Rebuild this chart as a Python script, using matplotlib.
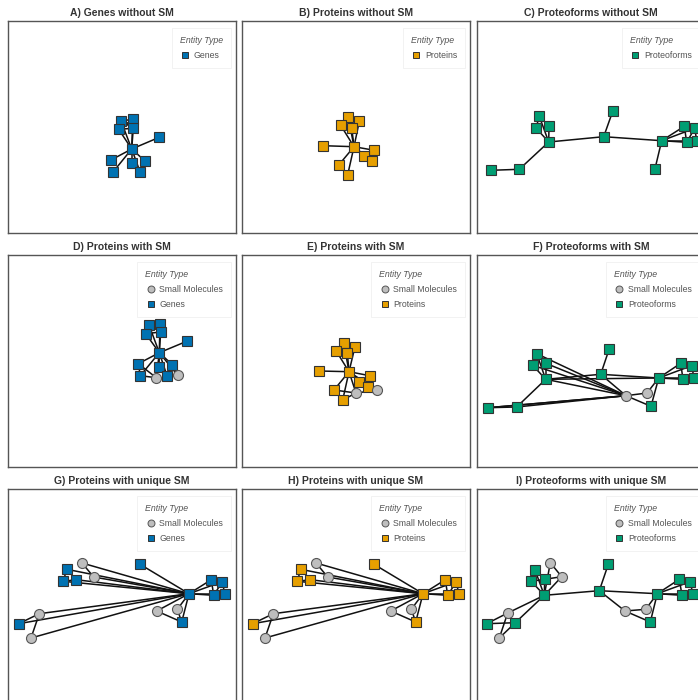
import matplotlib.pyplot as plt
from matplotlib.lines import Line2D

plt.rcParams['font.family'] = ['Liberation Sans', 'DejaVu Sans']

# node layouts (pixel units inside a 228 x 212 panel, y pointing down)
# A) genes without SM
a_x = [113, 124.7, 110.7, 125.3, 151.3, 123.7, 103, 105.3, 123.7, 137, 132]
a_y = [100, 98.3, 108.3, 107.3, 116.3, 128, 139, 150.7, 142.3, 140, 150.7]
a_kind = ['P'] * 11
a_edges = [(5, 0), (5, 1), (5, 2), (5, 3), (5, 4), (5, 6), (5, 7), (5, 8), (5, 9), (5, 10),
           (0, 3), (1, 2), (0, 1), (2, 3), (8, 10), (9, 10)]

# B) proteins without SM
b_x = [106.3, 117.3, 98.7, 109.7, 81.3, 112, 132.3, 121.7, 130.3, 97, 105.7]
b_y = [96.3, 100.3, 104.3, 106.7, 124.7, 125.7, 129.3, 135, 140.3, 143.7, 153.7]
b_kind = ['P'] * 11
b_edges = [(5, 0), (5, 1), (5, 2), (5, 3), (5, 4), (5, 6), (5, 7), (5, 8), (5, 9), (5, 10),
           (0, 3), (0, 1), (2, 3), (1, 3), (7, 8), (6, 8)]

# C) proteoforms without SM
c_x = [62.3, 59, 72, 71.7, 135.7, 126.7, 184.7, 178, 207.3, 217.7, 209.7, 219.7, 42.3, 14]
c_y = [95.3, 107, 105, 121, 90.3, 115.7, 119.7, 147.7, 105.3, 107.3, 121.3, 119.7, 148.3, 149.3]
c_kind = ['P'] * 14
c_edges = [(0, 3), (1, 3), (2, 3), (0, 2), (0, 1), (3, 12), (12, 13), (3, 5), (5, 4), (5, 6),
           (6, 7), (6, 8), (6, 9), (6, 10), (6, 11), (8, 10), (8, 9), (9, 11), (10, 11), (9, 10)]

# D) genes with SM
d_x = [141, 152, 137.7, 152.7, 178.7, 151.3, 130.3, 151, 164.3, 132.3, 159, 148.3, 169.7]
d_y = [70, 68.7, 78.7, 77, 86.3, 97.7, 108.7, 112, 109.7, 120.7, 120.7, 122.7, 120.3]
d_kind = ['P'] * 11 + ['S', 'S']
d_edges = [(5, 0), (5, 1), (5, 2), (5, 3), (5, 4), (5, 6), (5, 7), (5, 8), (5, 9), (5, 10),
           (5, 11), (5, 12), (0, 3), (0, 1), (2, 3), (1, 2), (6, 11), (6, 9), (9, 11),
           (7, 10), (8, 10), (10, 12), (8, 12), (7, 11)]

# E) proteins with SM
e_x = [101.7, 113, 94, 105.3, 77, 107, 127.7, 116.7, 125.7, 92, 100.7, 114, 134.7]
e_y = [87.7, 91.7, 95.7, 97.7, 116, 116.7, 120.7, 126.7, 131.7, 135, 145, 138, 135.3]
e_kind = ['P'] * 11 + ['S', 'S']
e_edges = [(5, 0), (5, 1), (5, 2), (5, 3), (5, 4), (5, 6), (5, 7), (5, 8), (5, 9), (5, 10),
           (5, 11), (5, 12), (0, 3), (0, 1), (2, 3), (1, 3), (9, 11), (10, 11), (7, 8),
           (6, 8), (8, 12), (11, 12), (7, 11)]

# F) proteoforms with SM
f_x = [59.7, 55.7, 68.7, 68.7, 132.3, 123.7, 181.7, 174, 203.7, 214.7, 206, 217, 39.7, 11.3, 149, 170]
f_y = [98.7, 110.3, 108.3, 124.3, 93.7, 119.3, 123, 151.3, 108.3, 110.7, 124.3, 123, 152, 152.7, 140.7, 138]
f_kind = ['P'] * 14 + ['S', 'S']
f_edges = [(0, 3), (1, 3), (2, 3), (0, 2), (0, 1), (3, 12), (12, 13), (3, 5), (5, 4), (5, 6),
           (3, 6), (6, 7), (6, 8), (6, 9), (6, 10), (6, 11), (8, 10), (8, 9), (9, 11), (10, 11),
           (14, 0), (14, 1), (14, 2), (14, 3), (14, 12), (14, 13), (14, 5), (14, 15), (14, 7),
           (15, 6), (13, 14)]

# G/H) genes / proteins with unique SM
g_x = [74, 58.7, 85.7, 55.3, 68.3, 132, 181, 203.3, 214.3, 205.7, 216.7, 148.7, 169.3, 173.7, 31.3, 10.7, 23]
g_y = [74, 80.3, 88, 92.3, 90.7, 75.3, 104.7, 90.7, 92.7, 106.3, 104.7, 122, 120.3, 133, 124.7, 134.7, 149]
g_kind = ['S', 'P', 'S', 'P', 'P', 'P', 'P', 'P', 'P', 'P', 'P', 'S', 'S', 'P', 'S', 'P', 'S']
g_edges = [(6, 1), (6, 2), (6, 3), (6, 4), (6, 5), (6, 7), (6, 8), (6, 9), (6, 10), (6, 11),
           (6, 12), (6, 13), (6, 14), (6, 15), (6, 16), (0, 2), (1, 4), (3, 4), (1, 3), (0, 6),
           (11, 13), (12, 13), (14, 15), (14, 16), (7, 9), (8, 10), (7, 8), (9, 10), (8, 9)]

# I) proteoforms with unique SM
i_x = [73.3, 58, 84.7, 54.3, 67.7, 67.3, 131.3, 122.3, 180.3, 202.3, 213.3, 205, 215.7,
       148, 168.7, 173.3, 30.7, 38.3, 9.7, 22.3]
i_y = [73.7, 81, 87.7, 92.3, 90.3, 106.3, 75.3, 101.7, 104.7, 90.3, 92.7, 106.3, 104.7,
       122, 120.3, 133, 124, 133.7, 134.7, 149]
i_kind = ['S', 'P', 'S', 'P', 'P', 'P', 'P', 'P', 'P', 'P', 'P', 'P', 'P',
          'S', 'S', 'P', 'S', 'P', 'P', 'S']
i_edges = [(5, 1), (5, 3), (5, 4), (5, 2), (5, 0), (0, 2), (1, 4), (3, 4), (2, 4), (5, 7),
           (7, 6), (7, 8), (7, 13), (13, 14), (13, 15), (14, 8), (8, 15), (8, 9), (8, 10),
           (8, 11), (8, 12), (9, 11), (10, 12), (9, 10), (11, 12), (5, 16), (5, 17), (16, 18),
           (18, 17), (16, 19), (19, 17)]

titles = ['A) Genes without SM', 'B) Proteins without SM', 'C) Proteoforms without SM',
          'D) Proteins with SM', 'E) Proteins with SM', 'F) Proteoforms with SM',
          'G) Proteins with unique SM', 'H) Proteins with unique SM', 'I) Proteoforms with unique SM']
entity = ['Genes', 'Proteins', 'Proteoforms'] * 3
with_sm = [False] * 3 + [True] * 6
layouts = [(a_x, a_y, a_kind, a_edges), (b_x, b_y, b_kind, b_edges), (c_x, c_y, c_kind, c_edges),
           (d_x, d_y, d_kind, d_edges), (e_x, e_y, e_kind, e_edges), (f_x, f_y, f_kind, f_edges),
           (g_x, g_y, g_kind, g_edges), (g_x, g_y, g_kind, g_edges), (i_x, i_y, i_kind, i_edges)]

colors = {'Genes': '#0072B2', 'Proteins': '#E69F00', 'Proteoforms': '#009E73'}
sm_color = '#BEBEBE'

W, H = 698, 700
fig = plt.figure(figsize=(W / 100, H / 100), dpi=100)
lefts = [8, 242, 477]
tops = [21, 255, 489]
pw, ph = 228, 212

for k in range(9):
    L, T = lefts[k % 3], tops[k // 3]
    ax = fig.add_axes([L / W, 1 - (T + ph) / H, pw / W, ph / H])
    xs, ys, kinds, edges = layouts[k]
    col = colors[entity[k]]
    for s, t in edges:
        ax.plot([xs[s], xs[t]], [ys[s], ys[t]], color='#111111', lw=1.1, zorder=1,
                solid_capstyle='round')
    for x, y, kd in zip(xs, ys, kinds):
        if kd == 'S':
            ax.plot(x, y, 'o', ms=7.2, mfc=sm_color, mec='#555555', mew=0.8, zorder=3)
        else:
            ax.plot(x, y, 's', ms=6.8, mfc=col, mec='#333333', mew=0.8, zorder=3)
    ax.set_xlim(0, pw)
    ax.set_ylim(ph, 0)
    ax.set_xticks([])
    ax.set_yticks([])
    for sp in ax.spines.values():
        sp.set_color('#555555')
        sp.set_linewidth(1.0)
    ax.set_title(titles[k], fontsize=7.5, fontweight='bold', color='#333333', pad=3.5)

    handles, labels = [], []
    if with_sm[k]:
        handles.append(Line2D([], [], ls='', marker='o', ms=5, mfc=sm_color, mec='#555555', mew=0.7))
        labels.append('Small Molecules')
    handles.append(Line2D([], [], ls='', marker='s', ms=4.5, mfc=col, mec='#333333', mew=0.7))
    labels.append(entity[k])
    leg = ax.legend(handles, labels, title='Entity Type', loc='upper right',
                    bbox_to_anchor=(1 - 5 / pw, 1 - 7 / ph), borderaxespad=0,
                    fontsize=6.3, title_fontproperties={'style': 'italic', 'size': 6.3},
                    alignment='left', frameon=True, fancybox=False, edgecolor='#ececec',
                    handletextpad=0.4, handlelength=1.2, labelspacing=0.7, borderpad=0.9)
    leg.get_frame().set_linewidth(0.6)
    leg.get_title().set_color('#555555')
    for txt in leg.get_texts():
        txt.set_color('#555555')

fig.savefig('out.png', dpi=100)
